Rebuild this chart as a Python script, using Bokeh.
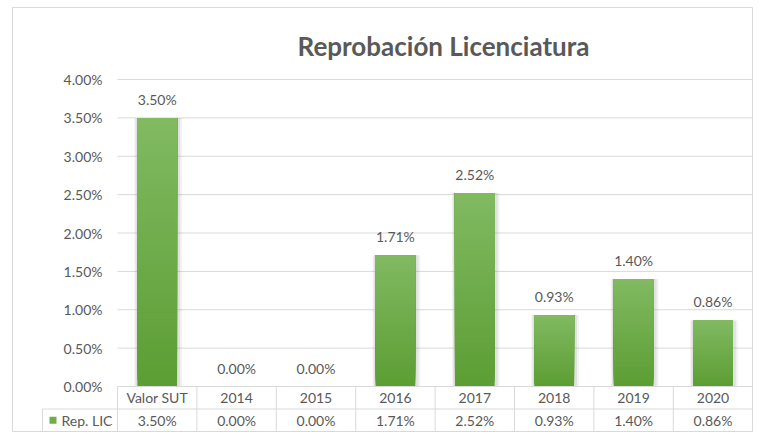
from bokeh.plotting import figure
from bokeh.models import Range1d
from bokeh.core.properties import value
from bokeh.embed import file_html
from bokeh.resources import INLINE

# ---------------- data ----------------
title_text = "Reprobación Licenciatura"
categories = ["Valor SUT", "2014", "2015", "2016", "2017", "2018", "2019", "2020"]
rep_lic = [3.50, 0.00, 0.00, 1.71, 2.52, 0.93, 1.40, 0.86]   # percent
series_name = "Rep. LIC"
y_ticks = [0.0, 0.5, 1.0, 1.5, 2.0, 2.5, 3.0, 3.5, 4.0]

# ---------------- layout constants (figure pixel coords) ----------------
W, H = 753, 432
FRAME_LEFT_PX = 12
FRAME_TOP_PX = 7
COL0 = 117                  # px of first column border
CW = 79.4                   # px per category
TOP4_PX = 79                # px of 4 %
ZERO_PX = 386               # px of 0 %
PPU = (ZERO_PX - TOP4_PX) / 4.0
ROW = 22.5                  # table row height px

def px_x(px):
    return -0.5 + (px - COL0) / CW

def px_y(py):
    return (ZERO_PX - py) / PPU

FONT = value("Lato")
TXT = "#595959"
GRID = "#d9d9d9"
FS = "14px"

p = figure(width=W, height=H, output_backend="svg", toolbar_location=None,
           x_range=Range1d(px_x(FRAME_LEFT_PX), px_x(W)),
           y_range=Range1d(px_y(H), px_y(FRAME_TOP_PX)),
           x_axis_location=None, y_axis_location=None,
           min_border_left=FRAME_LEFT_PX, min_border_right=0,
           min_border_top=FRAME_TOP_PX, min_border_bottom=0)
p.grid.visible = False
p.outline_line_color = GRID
p.background_fill_color = "white"
p.border_fill_color = "white"

n = len(categories)
xs = list(range(n))

# gridlines from tick values
p.segment(x0=[-0.5] * (len(y_ticks) - 1), x1=[n - 0.5] * (len(y_ticks) - 1),
          y0=y_ticks[1:], y1=y_ticks[1:], line_color=GRID, line_width=1)

# y tick labels
p.text(x=[px_x(102)] * len(y_ticks), y=y_ticks,
       text=[f"{t:.2f}%" for t in y_ticks], text_align="right",
       text_baseline="middle", text_font=FONT, text_font_size=FS,
       text_color=TXT)

# bars: soft shadow + vertical gradient
bw = 0.5
for extra, alpha in [(5, 0.10), (3, 0.14)]:
    e = extra / CW
    p.quad(left=[x - bw / 2 - e * 0.6 for x in xs], right=[x + bw / 2 + e for x in xs],
           bottom=[0] * n, top=rep_lic, fill_color="#7f7f7f", fill_alpha=alpha,
           line_color=None)

c_bot = (92, 157, 51)
c_top = (129, 186, 98)
N = 40
for k in range(N):
    t = (k + 0.5) / N
    col = "#%02x%02x%02x" % tuple(int(round(a + (b - a) * t)) for a, b in zip(c_bot, c_top))
    p.quad(left=[x - bw / 2 for x in xs], right=[x + bw / 2 for x in xs],
           bottom=[v * k / N for v in rep_lic], top=rep_lic,
           fill_color=col, line_color=None)

# data labels
p.text(x=xs, y=rep_lic, text=[f"{v:.2f}%" for v in rep_lic],
       text_align="center", text_baseline="bottom", y_offset=-10,
       text_font=FONT, text_font_size=FS, text_color=TXT)

# title
p.text(x=[px_x(443)], y=[px_y(45)], text=[title_text], text_align="center",
       text_baseline="middle", text_font=FONT, text_font_size="26px",
       text_font_style="bold", text_color=TXT)

# ---------------- data table ----------------
r0 = 0.0
r1 = px_y(ZERO_PX + ROW)
r2 = px_y(ZERO_PX + 2 * ROW)
leg_left = px_x(42)

# horizontal borders
p.segment(x0=[-0.5, leg_left, leg_left], x1=[n - 0.5] * 3, y0=[r0, r1, r2],
          y1=[r0, r1, r2], line_color=GRID, line_width=1)
# vertical borders
p.segment(x0=[i - 0.5 for i in range(n + 1)], x1=[i - 0.5 for i in range(n + 1)],
          y0=[r0] * (n + 1), y1=[r2] * (n + 1), line_color=GRID, line_width=1)
p.segment(x0=[leg_left], x1=[leg_left], y0=[r1], y1=[r2], line_color=GRID, line_width=1)

# category row
p.text(x=xs, y=[(r0 + r1) / 2] * n, text=categories, text_align="center",
       text_baseline="middle", text_font=FONT, text_font_size=FS, text_color=TXT)
# value row
p.text(x=xs, y=[(r1 + r2) / 2] * n, text=[f"{v:.2f}%" for v in rep_lic],
       text_align="center", text_baseline="middle", text_font=FONT,
       text_font_size=FS, text_color=TXT)
# legend key
p.scatter(x=[px_x(52.5)], y=[(r1 + r2) / 2], marker="square", size=7,
          fill_color="#70AD47", line_color=None)
p.text(x=[px_x(61)], y=[(r1 + r2) / 2], text=[series_name], text_align="left",
       text_baseline="middle", text_font=FONT, text_font_size=FS, text_color=TXT)

open("out.html", "w").write(file_html(p, INLINE))
